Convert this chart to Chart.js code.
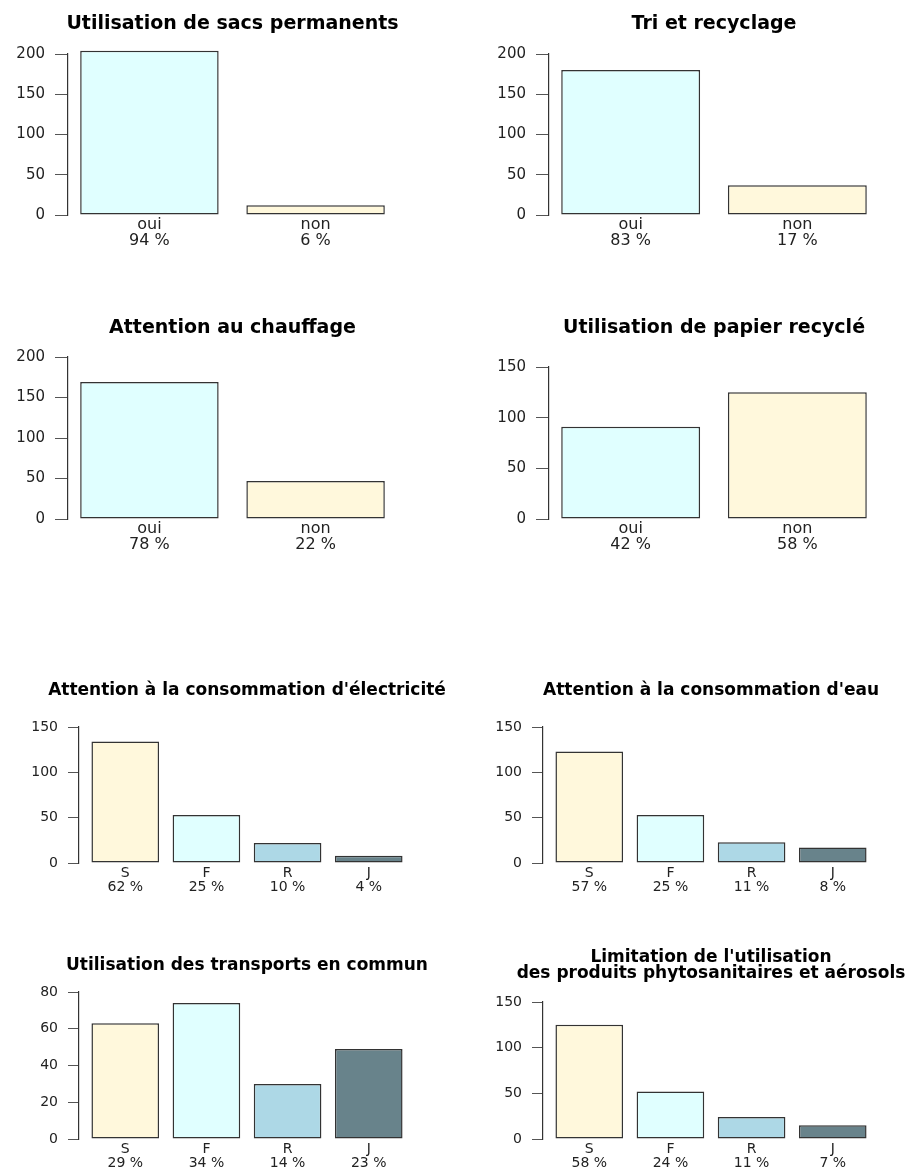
<!DOCTYPE html>
<html lang="fr">
<head>
<meta charset="utf-8">
<title>Gestes écologiques</title>
<script src="https://cdn.jsdelivr.net/npm/chart.js@4.4.1/dist/chart.umd.min.js"></script>
<style>
  html, body { margin: 0; background: #fff; }
  #page { position: relative; width: 908px; height: 1169px; overflow: hidden; }
  #page canvas { position: absolute; }
  .title {
    position: absolute;
    width: 520px;
    font-family: "DejaVu Sans", sans-serif;
    font-weight: bold;
    color: #000;
    text-align: center;
    white-space: nowrap;
  }
</style>
</head>
<body>
<div id="page"></div>
<script>
// categories
const yesNoLabels = ["oui", "non"];
const freqLabels = ["S", "F", "R", "J"];

const sacsValues = [204, 12];
const sacsPct = ["94 %", "6 %"];
const triValues = [180, 37];
const triPct = ["83 %", "17 %"];
const chauffageValues = [169, 47];
const chauffagePct = ["78 %", "22 %"];
const papierValues = [91, 125];
const papierPct = ["42 %", "58 %"];
const elecValues = [134, 53, 22, 8];
const elecPct = ["62 %", "25 %", "10 %", "4 %"];
const eauValues = [123, 53, 23, 17];
const eauPct = ["57 %", "25 %", "11 %", "8 %"];
const transportsValues = [63, 74, 30, 49];
const transportsPct = ["29 %", "34 %", "14 %", "23 %"];
const phytoValues = [125, 52, 24, 15];
const phytoPct = ["58 %", "24 %", "11 %", "7 %"];

const yesNoColors = ["#E0FFFF", "#FFF8DC"];
const freqColors = ["#FFF8DC", "#E0FFFF", "#ADD8E6", "#68838B"];

const charts = [
  { title: ["Utilisation de sacs permanents"], labels: yesNoLabels, values: sacsValues, pct: sacsPct, colors: yesNoColors, yMax: 200, yStep: 50 },
  { title: ["Tri et recyclage"], labels: yesNoLabels, values: triValues, pct: triPct, colors: yesNoColors, yMax: 200, yStep: 50 },
  { title: ["Attention au chauffage"], labels: yesNoLabels, values: chauffageValues, pct: chauffagePct, colors: yesNoColors, yMax: 200, yStep: 50 },
  { title: ["Utilisation de papier recyclé"], labels: yesNoLabels, values: papierValues, pct: papierPct, colors: yesNoColors, yMax: 150, yStep: 50 },
  { title: ["Attention à la consommation d'électricité"], labels: freqLabels, values: elecValues, pct: elecPct, colors: freqColors, yMax: 150, yStep: 50 },
  { title: ["Attention à la consommation d'eau"], labels: freqLabels, values: eauValues, pct: eauPct, colors: freqColors, yMax: 150, yStep: 50 },
  { title: ["Utilisation des transports en commun"], labels: freqLabels, values: transportsValues, pct: transportsPct, colors: freqColors, yMax: 80, yStep: 20 },
  { title: ["Limitation de l'utilisation", "des produits phytosanitaires et aérosols"], labels: freqLabels, values: phytoValues, pct: phytoPct, colors: freqColors, yMax: 150, yStep: 50 },
];

// page layout (px): the cell of each panel, and where its axis frame sits
const panels = [
  { left: 0,   top: 0,   height: 260, axisX: 68,  rightX: 397, titleY: 22,  topY: 54,   zeroY: 215,  big: true },
  { left: 454, top: 0,   height: 260, axisX: 549, rightX: 879, titleY: 22,  topY: 54,   zeroY: 215,  big: true },
  { left: 0,   top: 295, height: 265, axisX: 68,  rightX: 397, titleY: 326, topY: 357,  zeroY: 519,  big: true },
  { left: 454, top: 295, height: 265, axisX: 549, rightX: 879, titleY: 326, topY: 367,  zeroY: 519,  big: true },
  { left: 0,   top: 660, height: 240, axisX: 79,  rightX: 415, titleY: 689, topY: 727,  zeroY: 863 },
  { left: 454, top: 660, height: 240, axisX: 543, rightX: 879, titleY: 689, topY: 727,  zeroY: 863 },
  { left: 0,   top: 935, height: 234, axisX: 79,  rightX: 415, titleY: 964, topY: 992,  zeroY: 1139 },
  { left: 454, top: 935, height: 234, axisX: 543, rightX: 879, titleY: 956, topY: 1002, zeroY: 1139 },
];

const bigText = { title: 19, titleLine: 19, tick: 15, tickLen: 13, label: 16, labelLine: 15.5, labelPad: 2.5 };
const smallText = { title: 17, titleLine: 16.3, tick: 14, tickLen: 11, label: 14, labelLine: 14.5, labelPad: 3 };

const COL_W = 454;
const Y_AXIS_W = 60;

Chart.defaults.font.family = '"DejaVu Sans", sans-serif';

const page = document.getElementById("page");

charts.forEach((spec, i) => {
  const p = panels[i];
  const t = p.big ? bigText : smallText;

  const canvas = document.createElement("canvas");
  canvas.width = COL_W;
  canvas.height = p.height;
  canvas.style.left = p.left + "px";
  canvas.style.top = p.top + "px";
  page.appendChild(canvas);

  // title centred over the plot frame, like R's main=
  const title = document.createElement("div");
  title.className = "title";
  spec.title.forEach((line, k) => {
    if (k > 0) title.appendChild(document.createElement("br"));
    title.appendChild(document.createTextNode(line));
  });
  title.style.fontSize = t.title + "px";
  title.style.lineHeight = t.titleLine + "px";
  title.style.left = ((p.axisX + p.rightX) / 2 - 260) + "px";
  title.style.top = (p.titleY - t.titleLine / 2) + "px";
  page.appendChild(title);

  // barplot positions: width 1, space 0.2, range padded by 4 %
  const n = spec.values.length;
  const barPos = spec.values.map((_, k) => 0.7 + 1.2 * k);
  const span = 1.2 * n - 0.2;

  new Chart(canvas, {
    type: "bar",
    data: {
      datasets: [{
        data: spec.values.map((v, k) => ({ x: barPos[k], y: v })),
        backgroundColor: spec.colors,
        borderColor: "#333",
        borderWidth: 1.5,
        borderSkipped: false,
        categoryPercentage: 1,
        barPercentage: 1 / 1.2,
        clip: false,
      }],
    },
    options: {
      responsive: false,
      animation: false,
      layout: {
        padding: {
          top: p.topY - p.top,
          left: p.axisX - p.left - Y_AXIS_W,
          right: p.left + COL_W - p.rightX,
          bottom: 0,
        },
      },
      plugins: {
        legend: { display: false },
        tooltip: { enabled: false },
      },
      scales: {
        x: {
          type: "linear",
          offset: false,
          min: 0.2 - 0.04 * span,
          max: 0.2 + 1.04 * span,
          afterBuildTicks: (scale) => {
            scale.ticks = barPos.map((v) => ({ value: v }));
          },
          afterFit: (scale) => {
            scale.height = p.top + p.height - p.zeroY;
          },
          grid: { display: false, drawTicks: false, offset: false },
          border: { display: false },
          ticks: {
            autoSkip: false,
            maxRotation: 0,
            padding: t.labelPad,
            color: "#222",
            font: { size: t.label, lineHeight: t.labelLine / t.label },
            callback: (value, k) => [spec.labels[k], spec.pct[k]],
          },
        },
        y: {
          min: 0,
          max: spec.yMax,
          afterFit: (scale) => {
            scale.width = Y_AXIS_W;
          },
          ticks: {
            stepSize: spec.yStep,
            padding: 10,
            color: "#222",
            font: { size: t.tick },
          },
          grid: { drawOnChartArea: false, tickLength: t.tickLen, color: "#555" },
          border: { color: "#333", width: 1.2 },
        },
      },
    },
  });
});
</script>
</body>
</html>
